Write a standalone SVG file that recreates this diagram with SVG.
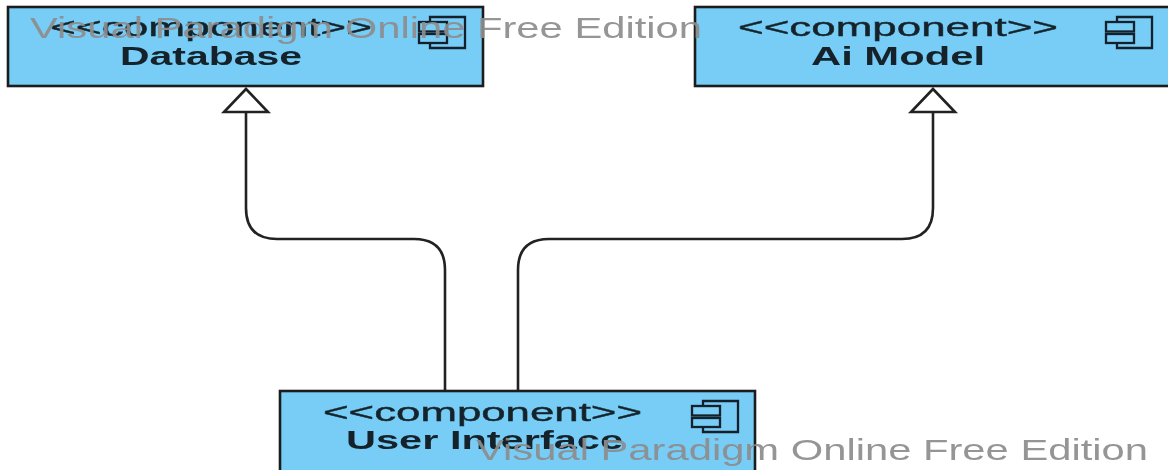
<svg xmlns="http://www.w3.org/2000/svg" width="1168" height="470" viewBox="0 0 1168 470">
<defs>
<style>
.box{fill:#77cdf6;stroke:#1c1c1c;stroke-width:2.6}
.t{font-family:"Liberation Sans",Arial,sans-serif;font-size:26px;fill:#15242c;stroke:#15242c;stroke-width:.4;filter:url(#soft)}
.n{font-weight:700;stroke:none}
.wm{font-family:"Liberation Sans",Arial,sans-serif;font-size:29px;fill:#8c8c8c;fill-opacity:.92;filter:url(#soft)}
.ic{fill:none;stroke:#15202a;stroke-width:2.3}
.c{fill:none;stroke:#222;stroke-width:2.6}
.h{fill:#fff;stroke:#222;stroke-width:2.6}
</style>
<filter id="soft" x="-5%" y="-30%" width="110%" height="160%"><feGaussianBlur stdDeviation="0.55"/></filter>
<g id="ico">
<path class="ic" d="M12 6V1H47V32H12V27"/>
<rect class="ic" x="1" y="6" width="28" height="9.5"/>
<rect class="ic" x="1" y="18" width="28" height="9"/>
</g>
</defs>
<rect width="1168" height="470" fill="#fff"/>
<g id="connectors">
<path class="c" d="M445 390V270Q445 239 414 239H277Q246 239 246 208V112"/>
<path class="c" d="M518 390V270Q518 239 549 239H902Q933 239 933 208V112"/>
<path class="h" d="M246 89L268 112H224Z"/>
<path class="h" d="M933 89L955 112H911Z"/>
</g>
<g id="database">
<rect class="box" x="8" y="7" width="475" height="79"/>
<text class="t" x="50" y="36" textLength="322" lengthAdjust="spacingAndGlyphs">&lt;&lt;component&gt;&gt;</text>
<text class="t n" x="120" y="65" textLength="182" lengthAdjust="spacingAndGlyphs">Database</text>
<use href="#ico" x="418" y="16"/>
</g>
<g id="ai-model">
<rect class="box" x="695" y="7" width="500" height="79"/>
<text class="t" x="738" y="36" textLength="320" lengthAdjust="spacingAndGlyphs">&lt;&lt;component&gt;&gt;</text>
<text class="t n" x="811" y="65" textLength="174" lengthAdjust="spacingAndGlyphs">Ai Model</text>
<use href="#ico" x="1105" y="16"/>
</g>
<g id="user-interface">
<rect class="box" x="280" y="391" width="475" height="90"/>
<text class="t" x="323" y="421" textLength="319" lengthAdjust="spacingAndGlyphs">&lt;&lt;component&gt;&gt;</text>
<text class="t n" x="346" y="449" textLength="277" lengthAdjust="spacingAndGlyphs">User Interface</text>
<use href="#ico" x="691" y="400"/>
</g>
<text class="wm" x="30" y="38" textLength="672" lengthAdjust="spacingAndGlyphs">Visual Paradigm Online Free Edition</text>
<text class="wm" x="476" y="460" textLength="672" lengthAdjust="spacingAndGlyphs">Visual Paradigm Online Free Edition</text>
</svg>
